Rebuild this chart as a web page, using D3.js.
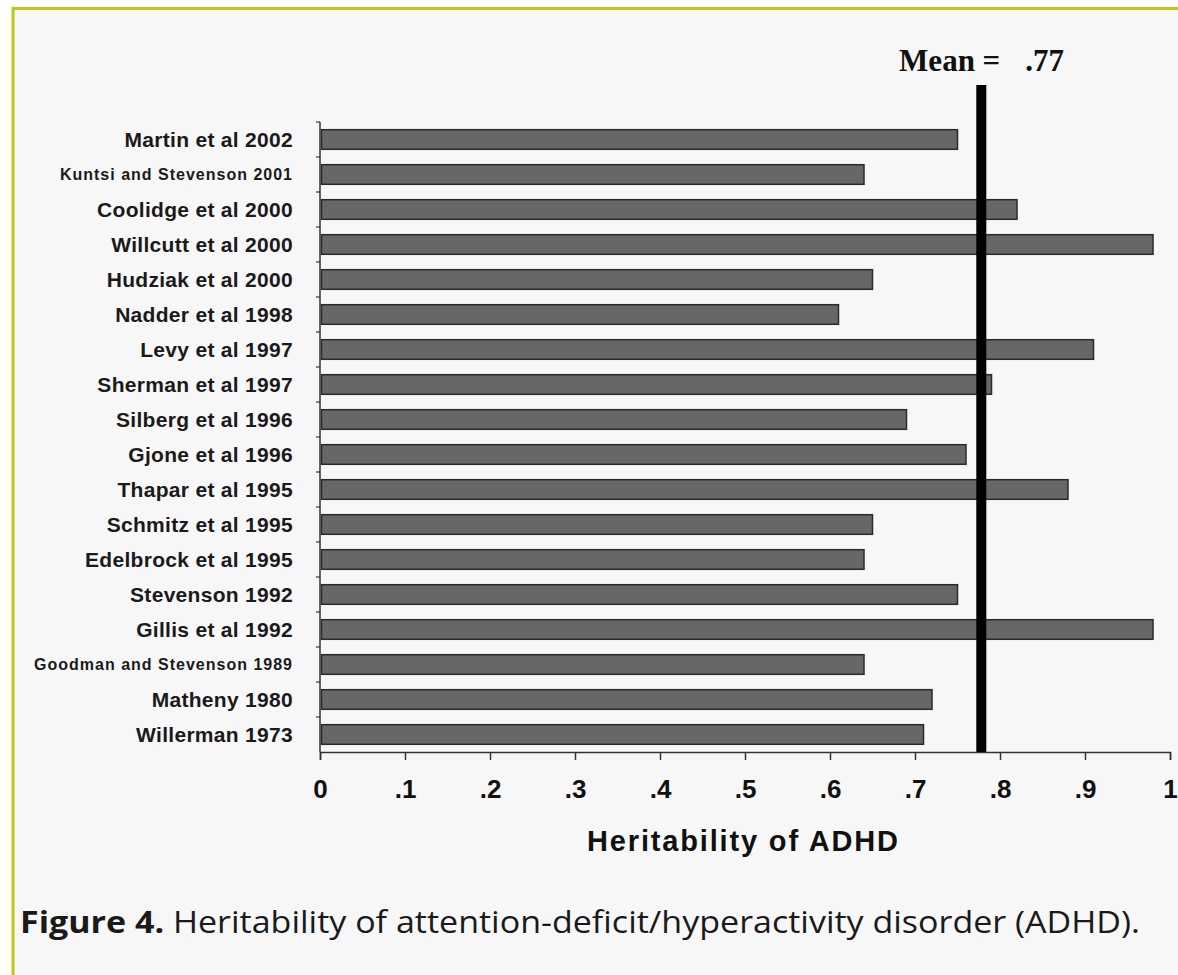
<!DOCTYPE html>
<html>
<head>
<meta charset="utf-8">
<script src="https://cdn.jsdelivr.net/npm/d3@7"></script>
<style>
  body { margin: 0; background: #fff; }
</style>
</head>
<body>
<svg id="chart" width="1178" height="975"></svg>
<script>
"use strict";

// study labels, top to bottom
var studies = [
  "Martin et al 2002",
  "Kuntsi and Stevenson 2001",
  "Coolidge et al 2000",
  "Willcutt et al 2000",
  "Hudziak et al 2000",
  "Nadder et al 1998",
  "Levy et al 1997",
  "Sherman et al 1997",
  "Silberg et al 1996",
  "Gjone et al 1996",
  "Thapar et al 1995",
  "Schmitz et al 1995",
  "Edelbrock et al 1995",
  "Stevenson 1992",
  "Gillis et al 1992",
  "Goodman and Stevenson 1989",
  "Matheny 1980",
  "Willerman 1973"
];

// heritability estimates
var heritability = [0.75, 0.64, 0.82, 0.98, 0.65, 0.61, 0.91, 0.79, 0.69, 0.76,
  0.88, 0.65, 0.64, 0.75, 0.98, 0.64, 0.72, 0.71];

// x axis ticks and the mean marker
var xTicks = [0, 0.1, 0.2, 0.3, 0.4, 0.5, 0.6, 0.7, 0.8, 0.9, 1];
var meanValue = 0.778;
var meanLabel = ".77";

var svg = d3.select("#chart");

// panel background with the lime frame (open on the right and bottom)
svg.append("rect").attr("x", 13).attr("y", 8).attr("width", 1178).attr("height", 975)
  .style("fill", "#f7f7f7");
svg.append("path").attr("d", "M13,980 L13,8.5 L1180,8.5")
  .style("fill", "none").style("stroke", "#b9cb10").style("stroke-width", 3);

// scales
var x = d3.scaleLinear().domain([0, 1]).range([320, 1170]);
var y = d3.scaleBand().domain(studies).range([122, 752]).paddingInner(0.44).paddingOuter(0.22);

// bars
svg.append("g").selectAll("rect").data(studies).enter().append("rect")
  .attr("x", x(0) + 1.5)
  .attr("y", function (d) { return y(d); })
  .attr("width", function (d, i) { return x(heritability[i]) - x(0) - 1.5; })
  .attr("height", y.bandwidth())
  .style("fill", "#676767").style("stroke", "#2a2a2a").style("stroke-width", 1.5);

// y axis: line plus small ticks at the band boundaries
var yAxis = svg.append("g");
yAxis.append("line").attr("x1", x(0)).attr("x2", x(0)).attr("y1", y.range()[0]).attr("y2", y.range()[1])
  .style("stroke", "#333").style("stroke-width", 1.5);
yAxis.selectAll("line.tick").data(studies).enter().append("line").attr("class", "tick")
  .attr("x1", x(0) - 4).attr("x2", x(0))
  .attr("y1", function (d) { return y(d) - y.step() * y.paddingOuter(); })
  .attr("y2", function (d) { return y(d) - y.step() * y.paddingOuter(); })
  .style("stroke", "#333").style("stroke-width", 1.2);

// y labels, long ones set smaller
yAxis.selectAll("text").data(studies).enter().append("text")
  .attr("x", 293)
  .attr("y", function (d) { return y(d) + y.bandwidth() / 2; })
  .attr("dy", "0.36em")
  .attr("text-anchor", "end")
  .style("font-family", "'Liberation Sans', Arial, sans-serif")
  .style("font-weight", "bold")
  .style("font-size", function (d) { return d.length > 20 ? "16px" : "21px"; })
  .style("letter-spacing", function (d) { return d.length > 20 ? "1px" : "0.3px"; })
  .style("fill", "#1a1a1a")
  .text(function (d) { return d; });

// x axis
var xAxis = svg.append("g").attr("transform", "translate(0," + y.range()[1] + ")")
  .call(d3.axisBottom(x).tickValues(xTicks).tickSize(8).tickPadding(20)
    .tickFormat(function (d) { return d === 0 || d === 1 ? String(d) : d.toFixed(1).slice(1); }));
xAxis.select(".domain").style("stroke", "#333").style("stroke-width", 1.5);
xAxis.selectAll(".tick line").style("stroke", "#333").style("stroke-width", 1.5);
xAxis.selectAll(".tick text")
  .style("font-family", "'Liberation Sans', Arial, sans-serif")
  .style("font-weight", "bold").style("font-size", "26px").style("fill", "#111");

// axis title
svg.append("text").attr("x", 587).attr("y", 851)
  .attr("textLength", 311).attr("lengthAdjust", "spacing")
  .style("font-family", "'Liberation Sans', Arial, sans-serif")
  .style("font-weight", "bold").style("font-size", "29px").style("fill", "#111")
  .text("Heritability of ADHD");

// mean line and label
svg.append("line").attr("x1", x(meanValue)).attr("x2", x(meanValue)).attr("y1", 85).attr("y2", y.range()[1])
  .style("stroke", "#000").style("stroke-width", 10);
svg.append("text").attr("x", x(meanValue) + 19).attr("y", 71).attr("text-anchor", "end")
  .style("font-family", "'Liberation Serif', 'Times New Roman', serif")
  .style("font-weight", "bold").style("font-size", "31px").style("fill", "#111")
  .text("Mean =");
svg.append("text").attr("x", x(meanValue) + 44).attr("y", 71)
  .style("font-family", "'Liberation Serif', 'Times New Roman', serif")
  .style("font-weight", "bold").style("font-size", "31px").style("fill", "#111")
  .text(meanLabel);

// figure caption
var caption = svg.append("text").attr("x", 20).attr("y", 933)
  .attr("textLength", 1120).attr("lengthAdjust", "spacingAndGlyphs")
  .style("font-family", "'Open Sans', 'Noto Sans', sans-serif")
  .style("font-size", "31px").style("fill", "#1a1a1a");
caption.append("tspan").style("font-weight", "bold").text("Figure 4.");
caption.append("tspan").text(" Heritability of attention-deficit/hyperactivity disorder (ADHD).");
</script>
</body>
</html>
